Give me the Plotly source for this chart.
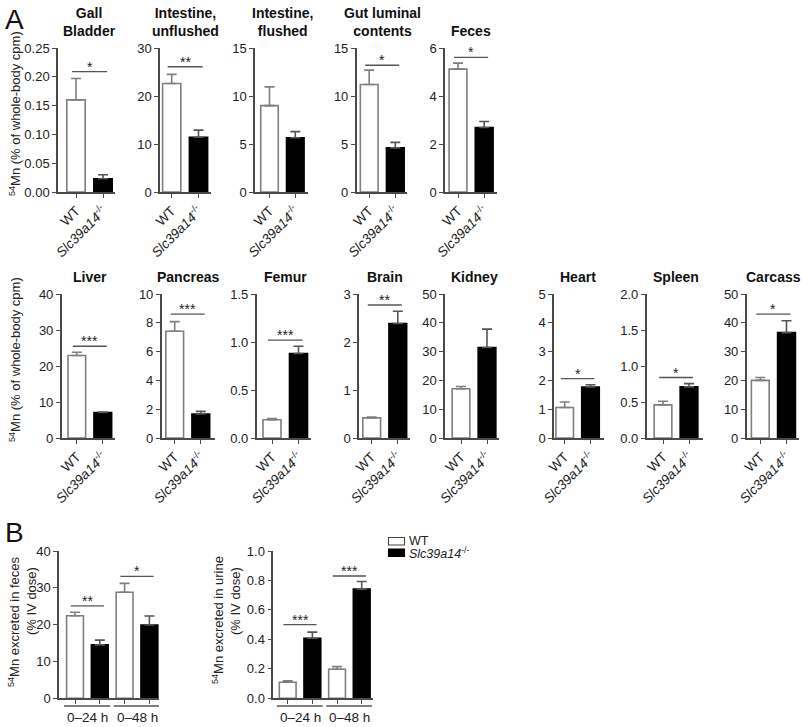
import plotly.graph_objects as go

W, H = 802, 727
FONT = "Arial, Liberation Sans, sans-serif"

# ---------------- DATA ----------------
# Panel A, top row
top_titles = ["Gall<br>Bladder", "Intestine,<br>unflushed", "Intestine,<br>flushed", "Gut luminal<br>contents", "Feces"]
top_wt = [0.160, 22.6, 9.0, 11.2, 5.12]
top_wt_err = [0.037, 1.9, 1.95, 1.5, 0.25]
top_ko = [0.023, 11.4, 5.65, 4.6, 2.69]
top_ko_err = [0.007, 1.5, 0.64, 0.57, 0.25]
top_ymax = [0.25, 30, 15, 15, 6]
top_dtick = [0.05, 10, 5, 5, 2]
top_fmt = [".2f", "", "", "", ""]
top_sig = ["*", "**", "", "*", "*"]
top_sig_y = [0.209, 26.1, None, 13.2, 5.61]

# Panel A, bottom row
bot_titles = ["Liver", "Pancreas", "Femur", "Brain", "Kidney", "Heart", "Spleen", "Carcass"]
bot_wt = [22.9, 7.41, 0.19, 0.42, 17.1, 1.06, 0.46, 20.0]
bot_wt_err = [0.9, 0.67, 0.012, 0.015, 0.8, 0.19, 0.05, 1.0]
bot_ko = [7.1, 1.67, 0.88, 2.385, 31.4, 1.77, 0.71, 36.6]
bot_ko_err = [0.1, 0.18, 0.075, 0.255, 6.4, 0.08, 0.045, 4.1]
bot_ymax = [40, 10, 1.5, 3, 50, 5, 2.0, 50]
bot_dtick = [10, 2, 0.5, 1, 10, 1, 0.5, 10]
bot_fmt = ["", "", ".1f", "", "", "", ".1f", ""]
bot_sig = ["***", "***", "***", "**", "", "*", "*", "*"]
bot_sig_y = [25.5, 8.6, 1.02, 2.77, None, 2.06, 0.84, 43]

genotypes = ["WT", "<i>Slc39a14</i><sup>-/-</sup>"]

# Panel B
b_groups = ["0–24 h", "0–48 h"]
b_feces_wt = [22.4, 28.8]
b_feces_wt_err = [0.95, 2.4]
b_feces_ko = [14.5, 19.9]
b_feces_ko_err = [1.3, 2.45]
b_feces_sig = ["**", "*"]
b_feces_sig_y = [25.1, 33.1]

b_urine_wt = [0.109, 0.197]
b_urine_wt_err = [0.009, 0.018]
b_urine_ko = [0.408, 0.741]
b_urine_ko_err = [0.041, 0.052]
b_urine_sig = ["***", "***"]
b_urine_sig_y = [0.50, 0.83]

# ---------------- LAYOUT GEOMETRY (pixels) ----------------
# (y-axis x, WT centre, KO centre, x-axis end)
top_px = [(58, 76, 103, 115), (160, 171.7, 198.5, 211), (255, 269.5, 295.3, 308.3),
          (356.7, 369.2, 395.3, 407), (445, 458, 484.2, 497)]
bot_px = [(61.7, 76.8, 102.8, 115), (161.7, 174.7, 200.8, 215), (256.7, 272, 298.5, 311),
          (359, 371.7, 397.8, 410), (445, 461, 487, 499), (554, 564.7, 590.5, 604),
          (646.7, 663, 689, 702.7), (746.7, 760.3, 786.5, 799)]
TOP_ROW = (48, 192)
BOT_ROW = (294, 438)
B_ROW = (551, 698.3)

WT_LINE = "#7f7f7f"
AX = "#4a4a4a"
BARW = 0.68

fig = go.Figure()
layout = {}
shapes = []
annotations = []


def px_x(p):
    return p / W


def px_y(p):
    return 1 - p / H


def add_axis(idx, L, R, row, xr, yr, dtick, fmt, tickvals, ticktext, showlabels=True):
    xn = "xaxis" if idx == 1 else f"xaxis{idx}"
    yn = "yaxis" if idx == 1 else f"yaxis{idx}"
    xa = "x" if idx == 1 else f"x{idx}"
    ya = "y" if idx == 1 else f"y{idx}"
    xd = dict(domain=[px_x(L), px_x(R)], range=xr, anchor=ya, automargin=False,
              showgrid=False, zeroline=False, showline=True, linecolor=AX, linewidth=1.5,
              ticks="outside", ticklen=4, tickwidth=1.2, tickcolor=AX,
              tickmode="array", tickvals=tickvals,
              showticklabels=showlabels, tickangle=-45,
              tickfont=dict(family=FONT, size=13.5, color="#222"), fixedrange=True)
    if ticktext is not None:
        xd["ticktext"] = ticktext
    layout[xn] = xd
    layout[yn] = dict(domain=[px_y(row[1]), px_y(row[0])], range=yr, anchor=xa, automargin=False,
                      showgrid=False, zeroline=False, showline=True, linecolor=AX, linewidth=1.5,
                      ticks="outside", ticklen=4, tickwidth=1.2, tickcolor=AX,
                      dtick=dtick, tick0=0, tickformat=fmt,
                      tickfont=dict(family=FONT, size=13, color="#222"), fixedrange=True)
    return xa, ya


def bar(xa, ya, xs, ys, errs, wt):
    fig.add_trace(go.Bar(
        x=xs, y=ys, width=BARW, xaxis=xa, yaxis=ya, showlegend=False,
        marker=dict(color="white" if wt else "black",
                    line=dict(color=WT_LINE if wt else "black", width=1.6)),
        error_y=dict(type="data", symmetric=False, array=errs, arrayminus=[0] * len(errs),
                     color=WT_LINE if wt else "#555", thickness=1.6, width=5),
        hoverinfo="skip"))


def sig(xa, ya, x0, x1, y, text):
    shapes.append(dict(type="line", xref=xa, yref=ya, x0=x0, x1=x1, y0=y, y1=y,
                       line=dict(color="#555", width=1.4)))
    annotations.append(dict(xref=xa, yref=ya, x=(x0 + x1) / 2, y=y, text=text, showarrow=False,
                            xanchor="center", yanchor="bottom", yshift=-5,
                            font=dict(family=FONT, size=14, color="#222")))


def vlabel(x, y, text):
    annotations.append(dict(xref="paper", yref="paper", x=px_x(x), y=px_y(y), text=text,
                            textangle=-90, showarrow=False, xanchor="center", yanchor="middle",
                            font=dict(family=FONT, size=13, color="#222")))


idx = 1
for rows in [(top_titles, top_wt, top_wt_err, top_ko, top_ko_err, top_ymax, top_dtick, top_fmt,
              top_sig, top_sig_y, top_px, TOP_ROW),
             (bot_titles, bot_wt, bot_wt_err, bot_ko, bot_ko_err, bot_ymax, bot_dtick, bot_fmt,
              bot_sig, bot_sig_y, bot_px, BOT_ROW)]:
    titles, wt, wte, ko, koe, ymax, dt, fm, sg, sgy, pxs, row = rows
    for i in range(len(titles)):
        L, c0, c1, R = pxs[i]
        s = c1 - c0
        xr = [-(c0 - L) / s, 1 + (R - c1) / s]
        xa, ya = add_axis(idx, L, R, row, xr, [0, ymax[i]], dt[i], fm[i], [0, 1], genotypes)
        bar(xa, ya, [0], [wt[i]], [wte[i]], True)
        bar(xa, ya, [1], [ko[i]], [koe[i]], False)
        if sg[i]:
            sig(xa, ya, -0.15, 1.15, sgy[i], sg[i])
        annotations.append(dict(xref=xa, yref="paper", x=0.5, y=px_y(row[0] - 7), text=f"<b>{titles[i]}</b>",
                                showarrow=False, xanchor="center", yanchor="bottom",
                                font=dict(family=FONT, size=14, color="#111")))
        idx += 1

# Panel B
b_px = [(59, 75, 24.8, 159), (273.3, 287.7, 24.67, 373.3)]
b_sets = [(b_feces_wt, b_feces_wt_err, b_feces_ko, b_feces_ko_err, b_feces_sig, b_feces_sig_y, 40, 10, ""),
          (b_urine_wt, b_urine_wt_err, b_urine_ko, b_urine_ko_err, b_urine_sig, b_urine_sig_y, 1.0, 0.2, ".1f")]
for k in range(2):
    L, c0, s, R = b_px[k]
    wt, wte, ko, koe, sg, sgy, ymax, dt, fm = b_sets[k]
    xr = [-(c0 - L) / s, 3 + (R - (c0 + 3 * s)) / s]
    xa, ya = add_axis(idx, L, R, B_ROW, xr, [0, ymax], dt, fm, [0, 1, 2, 3], None, showlabels=False)
    bar(xa, ya, [0, 2], wt, wte, True)
    bar(xa, ya, [1, 3], ko, koe, False)
    for g in range(2):
        base = 2 * g
        sig(xa, ya, base - 0.17, base + 1.17, sgy[g], sg[g])
        shapes.append(dict(type="line", xref=xa, yref="paper", x0=base - 0.44, x1=base + 1.42,
                           y0=px_y(706), y1=px_y(706), line=dict(color="#555", width=1.4)))
        annotations.append(dict(xref=xa, yref="paper", x=base + 0.5, y=px_y(708), text=b_groups[g],
                                showarrow=False, xanchor="center", yanchor="top",
                                font=dict(family=FONT, size=13.5, color="#222")))
    idx += 1

# Axis titles
ylab = "<sup>54</sup>Mn (% of whole-body cpm)"
for cy in [114, 360]:
    vlabel(15, cy, ylab)
vlabel(14, 622, "<sup>54</sup>Mn excreted in feces")
vlabel(31, 601, "(% IV dose)")
vlabel(218, 620, "<sup>54</sup>Mn excreted in urine")
vlabel(235, 601, "(% IV dose)")

# Panel letters
for letter, ly in [("A", 2), ("B", 515)]:
    annotations.append(dict(xref="paper", yref="paper", x=px_x(3), y=px_y(ly), text=letter,
                            showarrow=False, xanchor="left", yanchor="top",
                            font=dict(family=FONT, size=28, color="#111")))

# Legend
leg_labels = ["WT", "<i>Slc39a14</i><sup>-/-</sup>"]
leg_fill = ["white", "black"]
leg_line = ["#444", "black"]
for j in range(2):
    y0 = 537.5 + j * 11.5
    shapes.append(dict(type="rect", xref="paper", yref="paper", x0=px_x(388.5), x1=px_x(404.5),
                       y0=px_y(y0), y1=px_y(y0 + 7.5), fillcolor=leg_fill[j],
                       line=dict(color=leg_line[j], width=1.1)))
    annotations.append(dict(xref="paper", yref="paper", x=px_x(407), y=px_y(y0 + 3.8), text=leg_labels[j],
                            showarrow=False, xanchor="left", yanchor="middle",
                            font=dict(family=FONT, size=12.5, color="#222")))

fig.update_layout(**layout)
fig.update_layout(width=W, height=H, margin=dict(l=0, r=0, t=0, b=0, pad=0, autoexpand=False),
                  paper_bgcolor="white", plot_bgcolor="white", barmode="overlay",
                  shapes=shapes, annotations=annotations, showlegend=False)
fig.write_html("out.html", config={"displayModeBar": False},
               post_script="document.body.style.margin='0';document.body.style.overflow='hidden';")
